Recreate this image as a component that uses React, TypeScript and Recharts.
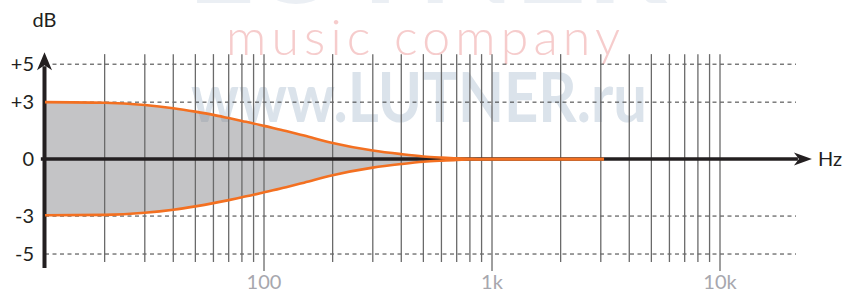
import React from "react";
import {
  ComposedChart,
  Area,
  Line,
  XAxis,
  YAxis,
  ReferenceLine,
} from "recharts";

// ---- data ----
const freqs = [10.95, 20, 30, 40, 50, 60, 70, 80, 90, 100, 125, 150, 200, 300, 400, 500, 600, 700, 800, 1000, 3100];
const upperDb = [3.0, 2.97, 2.85, 2.68, 2.5, 2.33, 2.16, 2.01, 1.88, 1.75, 1.48, 1.24, 0.85, 0.45, 0.26, 0.14, 0.08, 0.04, 0.02, 0, 0];
const lowerDb = [-2.96, -2.94, -2.83, -2.67, -2.49, -2.32, -2.16, -2.01, -1.88, -1.75, -1.48, -1.24, -0.85, -0.45, -0.26, -0.14, -0.08, -0.04, -0.02, 0, 0];

const minorGrid = [20, 30, 40, 50, 60, 70, 80, 90, 200, 300, 400, 500, 600, 700, 800, 900, 2000, 3000, 4000, 5000, 6000, 7000, 8000, 9000];
const majorGrid = [100, 1000, 10000];
const xTickLabels = ["100", "1k", "10k"];
const yTicks = [-5, -3, 0, 3, 5];
const yTickLabels = ["-5", "-3", "0", "+3", "+5"];
const dashedLevels = [-5, -3, 3, 5];

const X_DOMAIN: [number, number] = [10.95, 21544];
const Y_DOMAIN: [number, number] = [-6, 5.8];

const data = freqs.map((f, i) => ({ f, upper: upperDb[i], lower: lowerDb[i] }));

const FONT = "Lato, 'Open Sans', sans-serif";
const BLACK = "#231f20";
const ORANGE = "#f37021";

const XArrow = (p: any) => {
  const { x1, y1, x2 } = p;
  const tip = x2;
  return (
    <g>
      <line x1={x1} y1={y1} x2={tip - 14} y2={y1} stroke={BLACK} strokeWidth={3.5} />
      <polygon points={`${tip},${y1} ${tip - 18},${y1 - 6.5} ${tip - 13},${y1} ${tip - 18},${y1 + 6.5}`} fill={BLACK} />
      <text x={tip + 6} y={y1 + 7} fontFamily={FONT} fontSize={20} fill={BLACK}>Hz</text>
    </g>
  );
};

const YArrow = (p: any) => {
  const { x1, y1, y2 } = p;
  const x = x1 - 0.5;
  const top = Math.min(y1, y2);
  const bottom = Math.max(y1, y2);
  return (
    <g>
      <line x1={x} y1={bottom} x2={x} y2={top + 14} stroke={BLACK} strokeWidth={4} />
      <polygon points={`${x},${top} ${x - 7.5},${top + 18} ${x},${top + 13} ${x + 7.5},${top + 18}`} fill={BLACK} />
      <text x={x} y={top - 25} textAnchor="middle" fontFamily={FONT} fontSize={20} fill={BLACK}>dB</text>
    </g>
  );
};

export default function App() {
  return (
    <div style={{ position: "absolute", left: 0, top: 0, width: 844, height: 292, background: "#fff" }}>
      <svg width={844} height={292} style={{ position: "absolute", left: 0, top: 0 }}>
        <text x={187} y={3} fontFamily={FONT} fontWeight={700} fontSize={110} fill="#ebeff4" textLength={480} lengthAdjust="spacingAndGlyphs">LUTNER</text>
        <text x={226} y={55} fontFamily={FONT} fontWeight={300} fontSize={50} fill="#f6cccc" textLength={394} lengthAdjust="spacing">music company</text>
        <text x={191} y={122} fontFamily={FONT} fontWeight={700} fontSize={68} fill="#dbe3eb" textLength={456} lengthAdjust="spacingAndGlyphs">www.LUTNER.ru</text>
      </svg>
      <div style={{ position: "absolute", left: 0, top: 0 }}>
        <ComposedChart
          width={844}
          height={292}
          data={data}
          margin={{ top: 49, right: 48, bottom: 0, left: 0 }}
        >
          <XAxis
            dataKey="f"
            type="number"
            scale="log"
            domain={X_DOMAIN}
            allowDataOverflow
            ticks={majorGrid}
            tickFormatter={(v: number) => xTickLabels[majorGrid.indexOf(v)] ?? ""}
            axisLine={false}
            tickLine={false}
            tickSize={0}
            tickMargin={2}
            height={19}
            interval={0}
            tick={{ fill: "#a7a7ae", fontSize: 20, fontFamily: FONT }}
          />
          <YAxis
            type="number"
            domain={Y_DOMAIN}
            allowDataOverflow
            ticks={yTicks}
            tickFormatter={(v: number) => yTickLabels[yTicks.indexOf(v)] ?? ""}
            axisLine={false}
            tickLine={false}
            tickSize={0}
            tickMargin={11}
            width={45}
            interval={0}
            tick={{ fill: BLACK, fontSize: 20, fontFamily: FONT }}
          />
          <Area
            dataKey={(d: any) => [d.lower, d.upper]}
            type="monotone"
            stroke="none"
            fill="#8a8a8e"
            fillOpacity={0.5}
            isAnimationActive={false}
          />
          {dashedLevels.map((v) => (
            <ReferenceLine key={"d" + v} y={v} stroke="#3a3a3a" strokeWidth={1} strokeDasharray="4 3.5" />
          ))}
          {minorGrid.map((f) => (
            <ReferenceLine
              key={"g" + f}
              segment={[{ x: f, y: 5.53 }, { x: f, y: -5.42 }]}
              stroke="#6a6a6a"
              strokeWidth={1.3}
              ifOverflow="visible"
            />
          ))}
          {majorGrid.map((f) => (
            <ReferenceLine
              key={"m" + f}
              segment={[{ x: f, y: 5.53 }, { x: f, y: -5.9 }]}
              stroke="#6a6a6a"
              strokeWidth={1.3}
              ifOverflow="visible"
            />
          ))}
          <ReferenceLine
            segment={[{ x: 10.5, y: 0 }, { x: 25300, y: 0 }]}
            ifOverflow="visible"
            shape={XArrow}
          />
          <ReferenceLine
            segment={[{ x: X_DOMAIN[0], y: -5.74 }, { x: X_DOMAIN[0], y: 5.63 }]}
            ifOverflow="visible"
            shape={YArrow}
          />
          <Line dataKey="upper" type="monotone" stroke={ORANGE} strokeWidth={2.6} dot={false} isAnimationActive={false} />
          <Line dataKey="lower" type="monotone" stroke={ORANGE} strokeWidth={2.6} dot={false} isAnimationActive={false} />
        </ComposedChart>
      </div>
    </div>
  );
}
